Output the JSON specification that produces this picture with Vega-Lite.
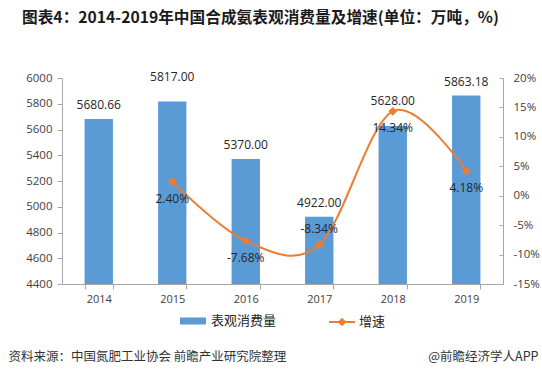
{
  "$schema": "https://vega.github.io/schema/vega-lite/v6.json",
  "width": 441,
  "height": 206,
  "autosize": {"type": "none"},
  "padding": {"left": 62, "top": 78, "right": 39, "bottom": 94},
  "background": "white",
  "title": {
    "text": "图表4：2014-2019年中国合成氨表观消费量及增速(单位：万吨，%)",
    "anchor": "start",
    "frame": "group",
    "dx": -40,
    "offset": 44,
    "fontSize": 15.7,
    "fontWeight": "bold",
    "font": "Noto Sans CJK SC",
    "color": "#1a1a1a"
  },
  "config": {
    "view": {"stroke": null},
    "locale": {"number": {"decimal": ".", "thousands": ",", "grouping": [3], "currency": ["", ""], "minus": "-"}},
    "axis": {
      "grid": false,
      "domainColor": "#A6A6A6",
      "tickColor": "#A6A6A6",
      "labelColor": "#404040",
      "labelFont": "Open Sans",
      "labelFontSize": 11.5,
      "labelOverlap": false,
      "labelBound": false,
      "labelFlush": false
    }
  },
  "data": {
    "values": [
      {"year": "2014", "volume": 5680.66, "growth": null},
      {"year": "2015", "volume": 5817.00, "growth": 0.0240},
      {"year": "2016", "volume": 5370.00, "growth": -0.0768},
      {"year": "2017", "volume": 4922.00, "growth": -0.0834},
      {"year": "2018", "volume": 5628.00, "growth": 0.1434},
      {"year": "2019", "volume": 5863.18, "growth": 0.0418}
    ]
  },
  "encoding": {
    "x": {
      "field": "year",
      "type": "ordinal",
      "scale": {"paddingInner": 0.614, "paddingOuter": 0.307},
      "axis": {
        "labelAngle": 0,
        "tickBand": "extent",
        "tickSize": 5,
        "labelPadding": 4,
        "labelFontSize": 11,
        "title": "资料来源：中国氮肥工业协会 前瞻产业研究院整理",
        "titleFont": "Noto Sans CJK SC",
        "titleFontWeight": "normal",
        "titleFontSize": 12.5,
        "titleColor": "#333333",
        "titleAnchor": null,
        "titleAlign": "left",
        "titleBaseline": "middle",
        "titleX": -54,
        "titleY": 72
      }
    }
  },
  "layer": [
    {
      "encoding": {
        "y": {
          "field": "volume",
          "type": "quantitative",
          "scale": {"domain": [4400, 6000], "zero": false, "nice": false},
          "axis": {
            "values": [4400, 4600, 4800, 5000, 5200, 5400, 5600, 5800, 6000],
            "format": "d",
            "tickSize": 5,
            "labelPadding": 5,
            "labelOverlap": false,
            "title": null
          }
        }
      },
      "layer": [
        {
          "mark": {"type": "bar", "color": "#5B9BD5"},
          "encoding": {
            "y2": {"datum": 4400},
            "fill": {
              "datum": "表观消费量",
              "type": "nominal",
              "scale": {"domain": ["表观消费量"], "range": ["#5B9BD5"]},
              "legend": {
                "orient": "none",
                "legendX": 118,
                "legendY": 230,
                "title": null,
                "symbolType": "M-1,-0.27H1V0.27H-1Z",
                "symbolSize": 676,
                "symbolStrokeWidth": 0,
                "labelFont": "Noto Sans CJK SC",
                "labelFontSize": 13,
                "labelColor": "#262626",
                "labelOffset": 5
              }
            }
          }
        },
        {
          "transform": [{"filter": "datum.year != '2015' && datum.year != '2018'"}],
          "mark": {"type": "text", "baseline": "middle", "dy": -14, "font": "Open Sans", "fontSize": 12, "color": "#262626"},
          "encoding": {
            "text": {"field": "volume", "type": "quantitative", "format": ".2f"}
          }
        },
        {
          "transform": [{"filter": "datum.year == '2015' || datum.year == '2018'"}],
          "mark": {"type": "text", "baseline": "middle", "dy": -25, "font": "Open Sans", "fontSize": 12, "color": "#262626"},
          "encoding": {
            "text": {"field": "volume", "type": "quantitative", "format": ".2f"}
          }
        }
      ]
    },
    {
      "encoding": {
        "y": {
          "field": "growth",
          "type": "quantitative",
          "scale": {"domain": [-0.15, 0.2], "nice": false, "zero": false},
          "axis": {
            "orient": "right",
            "values": [-0.15, -0.1, -0.05, 0, 0.05, 0.1, 0.15, 0.2],
            "format": ".0%",
            "labelOverlap": false,
            "tickSize": -4,
            "labelPadding": 14,
            "title": "@前瞻经济学人APP",
            "titleFont": "Noto Sans CJK SC",
            "titleFontWeight": "normal",
            "titleFontSize": 12.5,
            "titleColor": "#333333",
            "titleAngle": 0,
            "titleAnchor": null,
            "titleAlign": "right",
            "titleBaseline": "middle",
            "titleX": 35,
            "titleY": 278
          }
        }
      },
      "layer": [
        {
          "transform": [{"filter": "datum.growth != null"}],
          "mark": {
            "type": "line",
            "interpolate": "cardinal",
            "strokeWidth": 2,
            "point": {"shape": "diamond", "size": 36, "filled": true, "color": "#ED7D31"}
          },
          "encoding": {
            "stroke": {
              "datum": "增速",
              "type": "nominal",
              "scale": {"domain": ["增速"], "range": ["#ED7D31"]},
              "legend": {
                "orient": "none",
                "legendX": 266,
                "legendY": 230,
                "title": null,
                "symbolType": "M-1,0H1M0,-0.22L0.22,0L0,0.22L-0.22,0Z",
                "symbolSize": 676,
                "symbolStrokeWidth": 2,
                "symbolFillColor": "#ED7D31",
                "labelFont": "Noto Sans CJK SC",
                "labelFontSize": 13,
                "labelColor": "#262626",
                "labelOffset": 3
              }
            }
          }
        },
        {
          "transform": [{"filter": "datum.growth != null && datum.year != '2017'"}],
          "mark": {"type": "text", "baseline": "middle", "dy": 17, "font": "Open Sans", "fontSize": 12, "color": "#262626"},
          "encoding": {
            "text": {"field": "growth", "type": "quantitative", "format": ".2%"}
          }
        },
        {
          "transform": [{"filter": "datum.year == '2017'"}],
          "mark": {"type": "text", "baseline": "middle", "dy": -16, "font": "Open Sans", "fontSize": 12, "color": "#262626"},
          "encoding": {
            "text": {"field": "growth", "type": "quantitative", "format": ".2%"}
          }
        }
      ]
    }
  ],
  "resolve": {"scale": {"y": "independent"}, "axis": {"y": "independent"}}
}
